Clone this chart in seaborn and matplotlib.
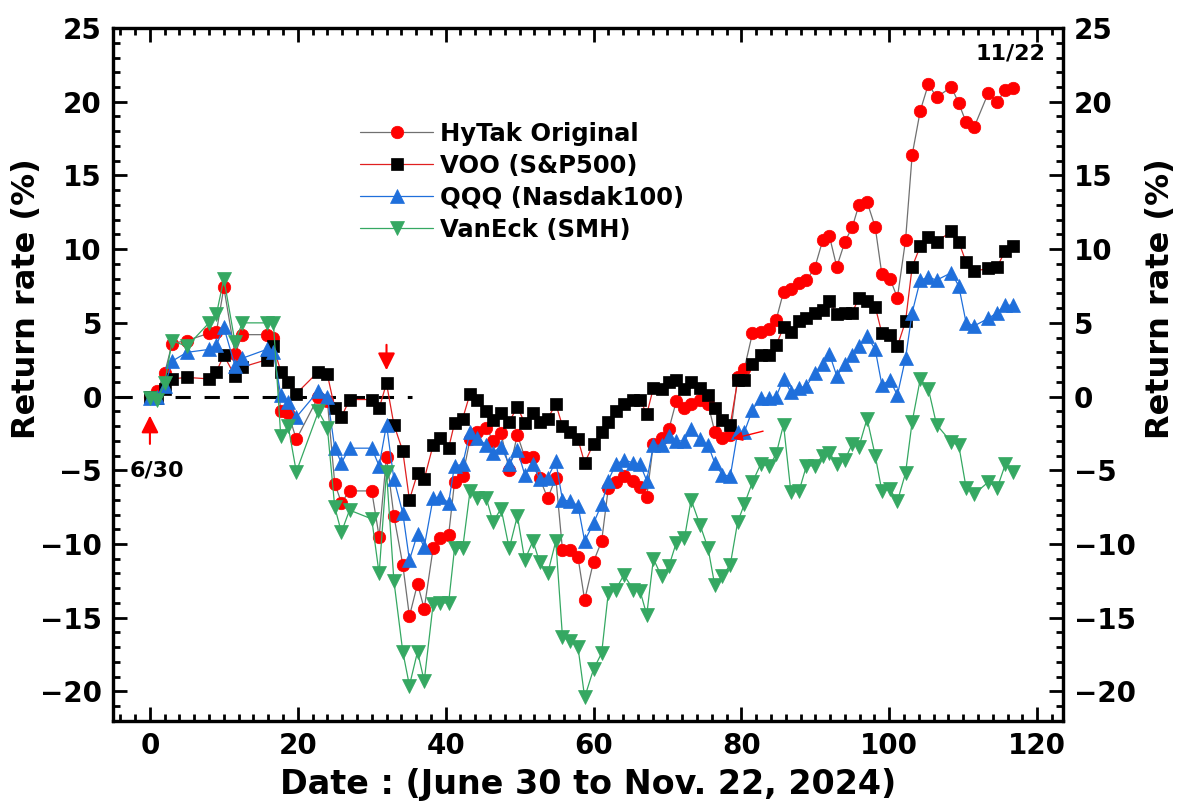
import matplotlib
matplotlib.use("Agg")
import matplotlib.pyplot as plt
from matplotlib.ticker import MultipleLocator
import pandas as pd
import seaborn as sns

# trading-day index since June 30, 2024
days = [0, 1, 2, 3, 5, 8, 9, 10, 11.5, 12.5,
        15.8, 16.7, 17.7, 18.7, 19.8, 22.8, 24, 25, 25.9, 27,
        30, 31, 32, 33, 34.2, 35.1, 36.2, 37.1, 38.3, 39.3,
        40.4, 41.2, 42.3, 43.3, 44.3, 45.5, 46.4, 47.5, 48.6, 49.7,
        50.7, 51.8, 52.7, 53.8, 54.9, 55.8, 56.8, 57.9, 58.8, 60,
        61.1, 62, 63, 64.1, 65.4, 66.3, 67.2, 68.1, 69.2, 70.2,
        71.2, 72.3, 73.2, 74.4, 75.5, 76.4, 77.4, 78.5, 79.5, 80.4,
        81.5, 82.6, 83.8, 84.7, 85.7, 86.7, 87.8, 88.8, 89.9, 91,
        91.9, 92.9, 94, 95, 95.9, 97, 98.1, 99, 100.1, 101.1,
        102.2, 103.1, 104.2, 105.3, 106.4, 108.4, 109.4, 110.4, 111.5, 113.4,
        114.6, 115.7, 116.7]

hytak = [0.0, 0.4, 1.6, 3.6, 3.8, 4.3, 4.4, 7.4, 2.9, 4.2,
         4.2, 4.0, -1.0, -1.1, -2.9, 0.0, -0.3, -5.9, -7.2, -6.4,
         -6.4, -9.5, -4.1, -8.1, -11.4, -14.9, -12.7, -14.4, -10.3, -9.6,
         -9.4, -5.8, -5.4, -2.9, -2.4, -2.1, -3.0, -2.5, -5.0, -2.6,
         -4.1, -4.1, -5.5, -6.9, -5.5, -10.4, -10.4, -10.9, -13.8, -11.2,
         -9.8, -6.2, -5.8, -5.4, -5.7, -6.1, -6.8, -3.2, -2.8, -2.2,
         -0.3, -0.8, -0.5, -0.2, -0.5, -2.4, -2.8, -2.6, 1.3, 1.9,
         4.3, 4.4, 4.6, 5.2, 7.1, 7.3, 7.7, 7.9, 8.7, 10.6,
         10.9, 8.8, 10.5, 11.5, 13.0, 13.2, 11.5, 8.3, 8.0, 6.7,
         10.6, 16.4, 19.4, 21.2, 20.3, 21.0, 19.9, 18.6, 18.3, 20.6,
         20.0, 20.8, 20.9]

voo = [0.0, -0.1, 0.5, 1.2, 1.3, 1.2, 1.7, 2.8, 1.4, 2.0,
       2.5, 3.4, 1.7, 1.0, 0.2, 1.7, 1.5, -0.8, -1.4, -0.2,
       -0.2, -0.8, 0.9, -1.9, -3.7, -7.0, -5.2, -5.6, -3.3, -2.8,
       -3.5, -1.8, -1.5, 0.2, -0.2, -1.0, -1.6, -1.1, -1.7, -0.7,
       -1.8, -1.1, -1.7, -1.5, -0.5, -2.0, -2.4, -2.9, -4.5, -3.2,
       -2.4, -1.7, -1.0, -0.5, -0.2, -0.2, -1.2, 0.6, 0.5, 1.0,
       1.1, 0.5, 1.0, 0.6, 0.1, -0.8, -1.6, -1.9, 1.1, 1.1,
       2.2, 2.8, 2.8, 3.5, 4.7, 4.4, 5.1, 5.3, 5.7, 5.9,
       6.5, 5.6, 5.7, 5.7, 6.7, 6.5, 6.1, 4.3, 4.2, 3.4,
       5.1, 8.8, 10.2, 10.8, 10.5, 11.2, 10.5, 9.1, 8.5, 8.7,
       8.8, 9.9, 10.2]

qqq = [-0.1, 0.0, 0.7, 2.4, 3.0, 3.2, 3.5, 4.7, 2.1, 2.6,
       3.2, 3.0, 0.1, -0.4, -1.4, 0.4, 0.0, -3.5, -4.5, -3.5,
       -3.5, -4.7, -1.9, -5.6, -7.9, -11.1, -9.3, -10.2, -6.9, -6.8,
       -7.2, -4.7, -4.6, -2.4, -2.8, -3.3, -3.8, -3.4, -4.6, -3.6,
       -5.3, -4.6, -5.6, -5.5, -4.4, -7.0, -7.1, -7.4, -9.8, -8.6,
       -7.3, -5.7, -4.6, -4.3, -4.5, -4.6, -5.7, -3.3, -3.3, -2.7,
       -3.0, -3.0, -2.2, -2.9, -3.3, -4.5, -5.3, -5.4, -2.4, -2.4,
       -0.9, -0.1, -0.1, 0.0, 1.2, 0.3, 0.6, 0.7, 1.6, 2.2,
       2.9, 1.4, 2.2, 2.8, 3.4, 4.1, 3.2, 0.8, 1.1, 0.1,
       2.6, 5.7, 7.9, 8.1, 7.9, 8.4, 7.5, 5.0, 4.8, 5.3,
       5.7, 6.2, 6.2]

smh = [-0.1, -0.2, 0.9, 3.8, 3.4, 5.0, 5.6, 8.0, 3.7, 5.0,
       5.0, 5.0, -2.7, -2.0, -5.1, -1.0, -2.1, -7.5, -9.2, -7.7,
       -8.3, -12.0, -5.1, -12.5, -17.3, -19.6, -17.3, -19.3, -14.1, -14.0,
       -14.0, -10.3, -10.3, -6.4, -6.9, -6.9, -8.5, -7.6, -10.3, -8.1,
       -11.1, -9.8, -11.2, -12.0, -9.8, -16.3, -16.6, -17.0, -20.4, -18.5,
       -17.4, -13.3, -13.1, -12.1, -13.1, -13.2, -14.8, -11.0, -12.2, -11.5,
       -9.9, -9.6, -7.0, -8.7, -10.3, -12.8, -12.2, -11.4, -8.5, -7.3,
       -5.8, -4.6, -4.7, -3.9, -1.9, -6.5, -6.4, -4.7, -4.7, -4.0,
       -3.8, -4.6, -4.3, -3.2, -3.4, -1.5, -4.0, -6.4, -6.3, -7.1,
       -5.2, -1.7, 1.2, 0.5, -1.9, -3.1, -3.3, -6.2, -6.6, -5.8,
       -6.2, -4.6, -5.1]

labels = ["HyTak Original", "VOO (S&P500)", "QQQ (Nasdak100)", "VanEck (SMH)"]

df = pd.DataFrame({"day": days, "HyTak": hytak, "VOO": voo, "QQQ": qqq, "SMH": smh})

sns.set_style("ticks", {"axes.edgecolor": "black", "xtick.color": "black",
                        "ytick.color": "black", "text.color": "black",
                        "axes.labelcolor": "black"})
plt.rcParams["font.family"] = ["DejaVu Sans"]
plt.rcParams["font.weight"] = "bold"
plt.rcParams["axes.labelweight"] = "bold"

fig = plt.figure(figsize=(11.84, 8.10), dpi=100)
ax = fig.add_axes([0.0954, 0.110, 0.8024, 0.8554])

# (column, marker, marker colour, line colour, marker size)
styles = [("HyTak", "o", "#ff0000", "#707070", 9),
          ("VOO", "s", "#000000", "#e02020", 8),
          ("QQQ", "^", "#1f6fdb", "#1f6fdb", 10),
          ("SMH", "v", "#35a862", "#35a862", 10)]

for (col, mk, mc, lc, ms), name in zip(styles, labels):
    sns.lineplot(data=df, x="day", y=col, ax=ax, color=lc, lw=0.9,
                 marker=mk, markersize=ms, markerfacecolor=mc,
                 markeredgecolor=mc, markeredgewidth=0.5,
                 errorbar=None, sort=False, label=name)

# zero reference
ax.hlines(0, -4.5, 35.5, colors="black", linestyles=(0, (5, 4.5)), lw=2.2, zorder=1)

# annotations
ax.annotate("", xy=(days[0], hytak[0] - 1.1), xytext=(days[0], hytak[0] - 3.4),
            arrowprops=dict(arrowstyle="-|>", color="red", lw=1.5, mutation_scale=26))
ax.text(days[0] + 0.9, -5.0, "6/30", ha="center", va="center", fontsize=16, fontweight="bold")
ax.annotate("", xy=(days[22], voo[22] + 0.7), xytext=(days[22], voo[22] + 2.8),
            arrowprops=dict(arrowstyle="-|>", color="red", lw=1.5, mutation_scale=26))
ax.annotate("", xy=(days[67], -2.9), xytext=(days[67] + 4.8, -2.3),
            arrowprops=dict(arrowstyle="-|>", color="red", lw=1.0, mutation_scale=14))
ax.text(days[-1] - 0.3, 23.3, "11/22", ha="center", va="center", fontsize=16, fontweight="bold")

ax.set_xlim(-5, 123.5)
ax.set_ylim(-22, 25)
ax.xaxis.set_major_locator(MultipleLocator(20))
ax.xaxis.set_minor_locator(MultipleLocator(2))
ax.yaxis.set_major_locator(MultipleLocator(5))
ax.yaxis.set_minor_locator(MultipleLocator(1))
ax.tick_params(which="both", direction="in", top=True, right=False, width=2,
               labelsize=20, pad=8)
ax.tick_params(which="major", length=10)
ax.tick_params(which="minor", length=5)
ax.set_xlabel("Date : (June 30 to Nov. 22, 2024)", fontsize=24, fontweight="bold", labelpad=6)
ax.set_ylabel("Return rate (%)", fontsize=23, fontweight="bold")
ax.yaxis.set_label_coords(-0.075, 0.61)

ax2 = ax.twinx()
ax2.set_ylim(ax.get_ylim())
ax2.yaxis.set_major_locator(MultipleLocator(5))
ax2.yaxis.set_minor_locator(MultipleLocator(1))
ax2.tick_params(which="both", direction="in", width=2, labelsize=20, pad=8)
ax2.tick_params(which="major", length=10)
ax2.tick_params(which="minor", length=5)
ax2.set_ylabel("Return rate (%)", fontsize=23, fontweight="bold")
ax2.yaxis.set_label_coords(1.086, 0.61)

for a in (ax, ax2):
    for s in a.spines.values():
        s.set_linewidth(2.3)

ax.legend(loc="upper left", bbox_to_anchor=(0.25, 0.879), frameon=False,
          handlelength=3.0, handletextpad=0.3, labelspacing=0.33,
          borderaxespad=0, prop={"weight": "bold", "size": 17.5})

fig.savefig("out.png", dpi=100)
